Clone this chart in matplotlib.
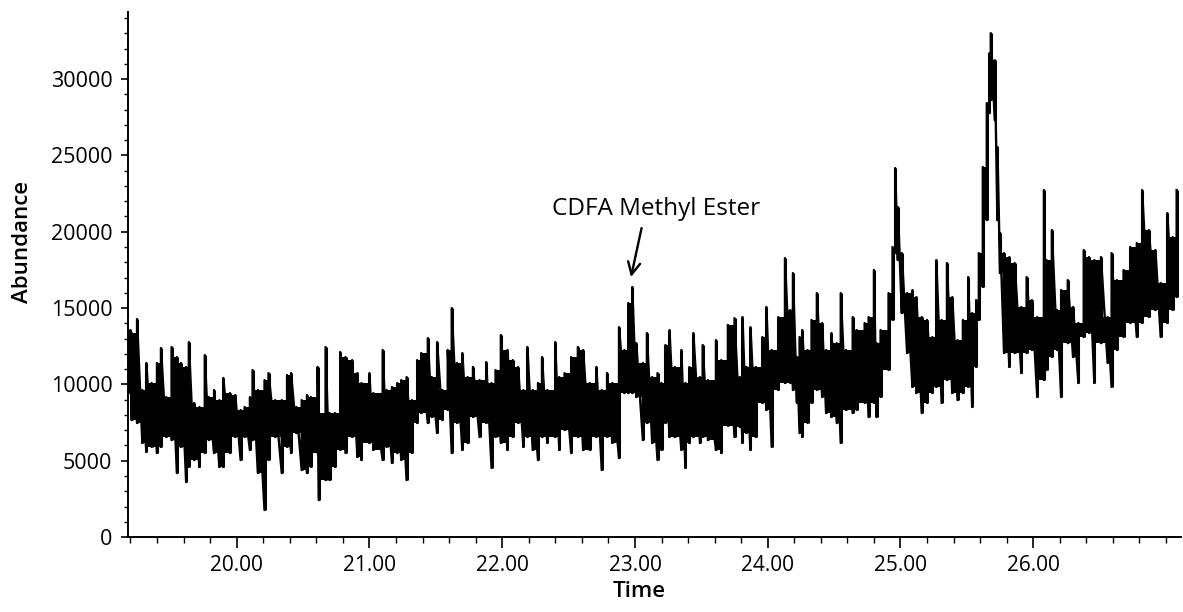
import numpy as np
import matplotlib.pyplot as plt
from matplotlib.ticker import MultipleLocator, FormatStrFormatter

# retention time (min)
time = [19.18, 19.20, 19.21, 19.25, 19.29, 19.32, 19.36, 19.40, 19.43, 19.47,
        19.51, 19.55, 19.58, 19.62, 19.64, 19.68, 19.72, 19.76, 19.79, 19.83,
        19.87, 19.90, 19.95, 19.99, 20.03, 20.06, 20.10, 20.12, 20.16, 20.21,
        20.24, 20.29, 20.34, 20.38, 20.41, 20.45, 20.49, 20.53, 20.56, 20.61,
        20.62, 20.67, 20.70, 20.74, 20.78, 20.82, 20.87, 20.91, 20.94, 21.00,
        21.03, 21.10, 21.13, 21.17, 21.21, 21.24, 21.28, 21.32, 21.36, 21.39,
        21.44, 21.47, 21.51, 21.55, 21.59, 21.62, 21.66, 21.70, 21.74, 21.78,
        21.83, 21.88, 21.92, 21.95, 21.99, 22.04, 22.08, 22.12, 22.16, 22.19,
        22.23, 22.27, 22.30, 22.34, 22.40, 22.43, 22.47, 22.52, 22.57, 22.61,
        22.66, 22.71, 22.75, 22.79, 22.83, 22.88, 22.92, 22.95, 22.98, 23.01,
        23.06, 23.09, 23.13, 23.17, 23.20, 23.23, 23.26, 23.30, 23.35, 23.38,
        23.41, 23.44, 23.49, 23.51, 23.55, 23.61, 23.65, 23.70, 23.75, 23.79,
        23.81, 23.84, 23.87, 23.91, 23.96, 23.99, 24.03, 24.08, 24.13, 24.17,
        24.19, 24.22, 24.24, 24.26, 24.30, 24.33, 24.37, 24.41, 24.44, 24.48,
        24.52, 24.55, 24.59, 24.64, 24.67, 24.73, 24.76, 24.80, 24.82, 24.85,
        24.91, 24.94, 24.96, 24.98, 25.01, 25.05, 25.09, 25.12, 25.16, 25.20,
        25.24, 25.27, 25.31, 25.35, 25.39, 25.43, 25.47, 25.51, 25.54, 25.57,
        25.59, 25.62, 25.65, 25.67, 25.68, 25.71, 25.73, 25.75, 25.78, 25.82,
        25.86, 25.91, 25.95, 25.99, 26.03, 26.08, 26.10, 26.14, 26.18, 26.21,
        26.26, 26.30, 26.34, 26.38, 26.42, 26.46, 26.51, 26.56, 26.59, 26.63,
        26.68, 26.73, 26.78, 26.82, 26.87, 26.92, 26.96, 27.01, 27.05, 27.08]

# upper envelope of the abundance trace
high = [13560, 13560, 13360, 14280, 9630, 11400, 10090, 11400, 12380, 9170,
        12450, 11790, 11400, 11140, 12770, 8780, 8520, 11920, 9170, 9630,
        8970, 10420, 9430, 9300, 8320, 8520, 9170, 10940, 9630, 10280,
        10740, 8970, 8970, 10610, 10740, 8520, 8970, 9300, 9170, 11140,
        8120, 12450, 8120, 8120, 12120, 11790, 11590, 10740, 10090, 10740,
        9430, 12250, 9630, 9830, 10090, 10280, 10480, 8970, 11590, 12050,
        13030, 10480, 12770, 9630, 12250, 15000, 11400, 12050, 10480, 11140,
        10280, 11460, 10090, 10940, 13230, 12250, 11590, 11140, 9630, 12450,
        9630, 10090, 11790, 9630, 12770, 10480, 10740, 11790, 12450, 12250,
        10090, 11140, 9630, 10740, 10090, 13750, 12250, 15330, 16380, 12700,
        11400, 13360, 10480, 10740, 10090, 12580, 13560, 11140, 12250, 10090,
        11140, 13360, 10480, 12580, 10280, 12900, 11590, 13900, 14340, 10480,
        14410, 11140, 13750, 11140, 13100, 15070, 12250, 14410, 18270, 14870,
        17290, 11790, 13100, 13560, 12250, 14220, 15980, 14020, 12250, 13360,
        12700, 15980, 12250, 14410, 13560, 14020, 14410, 17490, 12700, 13560,
        15980, 19000, 24170, 21620, 18600, 15980, 16180, 15720, 14410, 14220,
        13100, 18140, 14220, 17950, 15720, 12900, 14220, 17030, 14670, 15520,
        18600, 24240, 28430, 31700, 33010, 31240, 25550, 19910, 18600, 18340,
        17950, 15070, 17030, 15520, 14410, 22730, 18140, 20110, 14870, 16180,
        16830, 15070, 14020, 18800, 18340, 18140, 18340, 14410, 18600, 16830,
        17490, 19000, 19260, 22730, 20110, 18800, 16640, 21220, 19650, 22730]

# lower envelope of the abundance trace
low = [9430, 9430, 7660, 7470, 6160, 5570, 5900, 5500, 5900, 6550,
       6350, 4190, 5900, 3600, 4590, 5040, 4590, 5500, 6350, 5500,
       4590, 4590, 5500, 6550, 5040, 6550, 5700, 6350, 4190, 1770,
       5040, 6550, 4190, 5900, 5500, 6810, 4390, 4190, 4590, 5500,
       2420, 3730, 3730, 4590, 5700, 5500, 6550, 5240, 5040, 6160,
       5700, 5040, 5900, 4850, 5500, 5040, 3730, 5500, 7470, 8120,
       7470, 7860, 6810, 7660, 8320, 5500, 7470, 5700, 6160, 7860,
       6550, 7470, 4520, 6550, 6160, 5700, 6550, 7470, 5900, 6550,
       5700, 5040, 6550, 6160, 6550, 5700, 7010, 5500, 6550, 5700,
       5700, 6550, 4390, 6550, 6160, 5170, 9430, 9430, 9430, 9170,
       6350, 7470, 6160, 5040, 5700, 7470, 6550, 6550, 5700, 4520,
       6160, 6550, 6160, 6550, 6350, 5700, 5500, 7300, 6550, 7200,
       6160, 6810, 5700, 6550, 8780, 8320, 5900, 9630, 10090, 10090,
       9630, 8780, 6810, 6550, 7470, 8780, 9630, 9170, 8120, 7860,
       7470, 6160, 8320, 8120, 8320, 8780, 7860, 8780, 7860, 9170,
       10940, 14220, 18600, 18140, 14670, 12050, 9830, 9430, 8120, 8780,
       9430, 9830, 8780, 10280, 9430, 8970, 9430, 9830, 8520, 11140,
       14220, 16380, 20760, 27770, 28620, 27310, 20760, 17290, 12050, 11140,
       12050, 10740, 12050, 12250, 9170, 10280, 10940, 11790, 12250, 9170,
       12700, 11790, 10090, 13100, 13360, 10090, 12700, 11400, 9830, 12250,
       13100, 14020, 13100, 14020, 14410, 14870, 13100, 14020, 14870, 15720]

# labelled time ticks
time_ticks = [20, 21, 22, 23, 24, 25, 26]

t = np.array(time)
hi = np.array(high)
lo = np.array(low)

fig = plt.figure(figsize=(11.83, 6.12), dpi=100)
ax = fig.add_axes([0.108, 0.1225, 0.89, 0.858])

# solid core where neighbouring scans overlap, thin strokes for the spikes
top = np.append(np.minimum(hi[:-1], hi[1:]), hi[-1])
bot = np.append(np.maximum(lo[:-1], lo[1:]), lo[-1])
ax.fill_between(t, bot, top, where=top > bot, step='post', color='black', lw=0)
ax.vlines(t, lo, hi, color='black', lw=2.2)
ax.plot(np.repeat(t, 2), np.column_stack([lo, hi]).ravel(), color='black', lw=1.7)

ax.set_xlim(19.18, 27.11)
ax.set_ylim(0, 34400)

ax.spines['top'].set_visible(False)
ax.spines['right'].set_visible(False)
ax.spines['left'].set_linewidth(1.4)
ax.spines['bottom'].set_linewidth(1.4)

ax.set_xticks(time_ticks)
ax.xaxis.set_minor_locator(MultipleLocator(0.2))
ax.xaxis.set_major_formatter(FormatStrFormatter('%.2f'))
ax.yaxis.set_major_locator(MultipleLocator(5000))
ax.yaxis.set_minor_locator(MultipleLocator(1000))

font = 'Open Sans'
ax.tick_params(axis='x', which='major', direction='out', length=8, width=1.2,
               pad=5, labelsize=15)
ax.tick_params(axis='x', which='minor', direction='out', length=4, width=1)
ax.tick_params(axis='y', which='major', direction='out', length=5, width=1.2,
               pad=6, labelsize=15.5)
ax.tick_params(axis='y', which='minor', direction='out', length=3, width=1)
for lab in ax.get_xticklabels() + ax.get_yticklabels():
    lab.set_family(font)

ax.set_xlabel('Time', family=font, fontsize=16, fontweight='semibold')
ax.set_ylabel('Abundance', family=font, fontsize=16, fontweight='semibold')
ax.xaxis.set_label_coords(0.486, -0.084)
ax.yaxis.set_label_coords(-0.090, 0.562)

ax.text(23.16, 21480, 'CDFA Methyl Ester', ha='center', va='center',
        family=font, fontsize=17.5)
ax.annotate('', xy=(22.97, 17030), xytext=(23.05, 20240),
            arrowprops=dict(arrowstyle='->', color='black', lw=1.7,
                            shrinkA=0, shrinkB=0, mutation_scale=22))

fig.savefig('out.png', dpi=100)
